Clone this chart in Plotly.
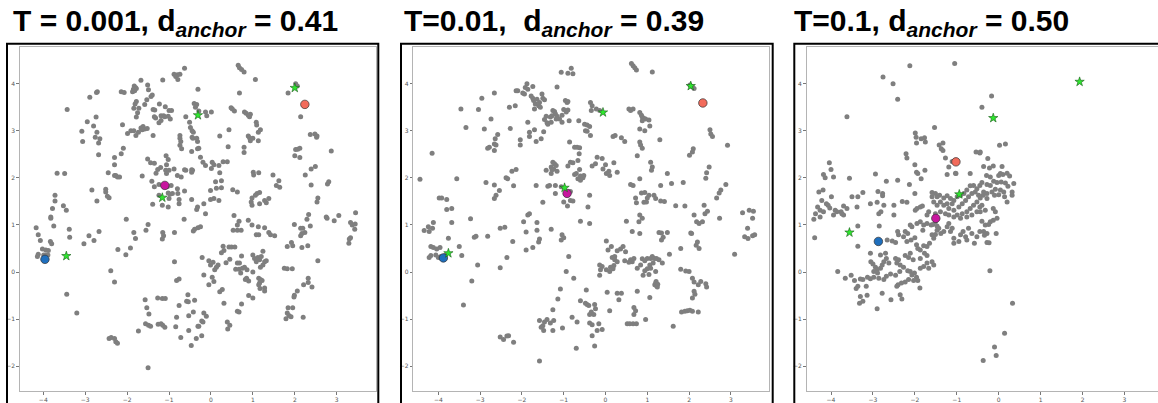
import plotly.graph_objects as go

# ---------------- data ----------------
titles = [
    "<b>T = 0.001, d<sub><i>anchor</i></sub> = 0.41</b>",
    "<b>T=0.01,\u00a0 d<sub><i>anchor</i></sub> = 0.39</b>",
    "<b>T=0.1, d<sub><i>anchor</i></sub> = 0.50</b>",
]

x_ticks = [-4, -3, -2, -1, 0, 1, 2, 3]
y_ticks = [-2, -1, 0, 1, 2, 3, 4]

# panel 1 (T = 0.001) gray embedding points
pts_t001 = [
    (-0.63,4.33),(-0.88,4.2),(-0.8,4.19),(-0.74,4.2),(-0.84,4.15),(-0.79,4.09),
    (-1.15,4.08),(-1.67,4.07),
    (-1.83,3.95),(-1.8,3.92),(-1.85,3.88),(-1.87,3.83),(-1.82,3.85),(-1.78,3.9),
    (-1.51,3.97),(-1.49,3.87),(-1.4,3.76),(-1.43,3.73),(-1.53,3.66),(-1.58,3.56),
    (-2.14,3.83),(-2.07,3.81),(-2.71,3.83),(-2.73,3.81),(-2.89,3.71),(-3.43,3.45),
    (-1.78,3.62),(-1.81,3.57),(-1.84,3.48),(-1.72,3.48),(-1.75,3.38),(-1.78,3.29),
    (-1.38,3.45),(-1.34,3.44),(-1.23,3.57),(-1.09,3.51),(-1.0,3.43),(-0.94,3.43),
    (-1.35,3.3),(-1.32,3.27),(-1.19,3.32),(-1.13,3.32),(-1.1,3.3),(-1.19,3.22),(-1.24,3.17),(-1.02,3.31),(-0.97,3.25),
    (-0.6,3.3),(-0.4,3.58),(-0.34,3.56),(-0.37,3.5),
    (-0.51,3.18),(-0.49,3.07),(-0.45,3.0),(-0.42,2.97),(-0.45,2.86),
    (-0.31,3.88),
    (-2.95,3.19),(-3.08,2.99),(-2.8,3.1),(-2.74,3.29),(-2.72,2.97),(-2.76,2.86),(-2.65,2.83),(-2.68,2.74),(-3.06,2.77),(-2.68,2.49),
    (-2.11,3.13),
    (-1.99,2.94),(-1.91,3.0),(-1.84,3.0),(-1.79,2.9),(-1.73,2.97),(-1.67,3.06),(-1.62,3.09),(-1.58,3.04),(-1.52,3.05),(-1.64,3.02),(-1.38,2.9),
    (-0.74,2.9),(-0.74,2.84),(-0.72,2.77),(-0.74,2.69),(-0.7,2.62),
    (-0.43,2.84),(-0.34,2.84),(-0.32,2.77),(-0.46,2.56),(-0.32,2.62),
    (-2.09,2.63),(-2.14,2.51),(-2.3,2.43),(-2.3,2.28),(-2.45,2.11),
    (-1.51,2.4),(-1.44,2.32),(-1.35,2.31),(-1.07,2.47),(-1.02,2.39),(-1.06,2.28),
    (-1.2,2.22),(-1.27,2.18),(-1.08,2.16),(-1.0,2.16),(-0.88,2.19),(-1.06,2.09),
    (-1.31,2.1),(-1.41,1.93),(-1.24,1.86),(-1.35,1.81),(-1.64,2.04),
    (-2.3,2.05),(-2.27,2.05),(-2.23,2.02),(-2.18,2.02),
    (-2.84,1.74),(-2.51,1.76),(-2.51,1.7),(-2.47,1.61),(-2.43,1.58),(-2.72,1.51),
    (-3.67,2.1),(-3.49,2.09),
    (-3.72,1.63),(-3.72,1.51),(-3.78,1.35),(-3.52,1.41),(-3.45,1.31),(-3.82,1.17),
    (-0.8,2.05),(-0.71,2.02),(-0.63,2.17),(-0.6,2.16),(-0.46,2.17),(-0.46,2.12),(-0.44,2.16),
    (-0.8,1.77),(-0.79,1.67),(-0.76,1.54),(-0.76,1.45),(-0.63,1.72),(-0.92,1.67),(-1.02,1.68),(-0.95,1.84),(-1.04,1.81),
    (-1.0,1.56),(-0.98,1.65),(-1.24,1.63),(-1.39,1.44),
    (-0.46,1.54),(-0.34,1.33),(-0.32,1.38),(-1.02,1.38),(-1.16,1.42),
    (-3.82,1.14),(-4.17,0.94),(-4.12,0.79),(-4.07,0.67),(-3.83,0.65),(-3.8,0.6),(-3.75,0.98),
    (-3.38,0.91),(-3.37,0.74),
    (-3.03,0.6),(-2.91,0.77),(-2.79,0.67),(-2.67,0.86),
    (-4.02,0.49),(-3.94,0.47),(-3.88,0.46),(-4.12,0.38),(-4.14,0.33),(-3.99,0.36),(-3.94,0.36),(-3.89,0.36),
    (-3.44,-0.47),(-3.2,-0.87),(-2.39,0.03),(-2.3,-0.21),
    (-2.22,0.48),(-2.03,0.37),(-1.92,0.51),(-1.84,0.84),(-1.8,0.71),(-2.02,1.12),
    (-1.55,0.89),(-1.5,1.01),
    (-1.15,0.84),(-1.13,0.77),(-1.16,0.7),(-0.87,0.84),
    (-0.87,0.22),(-0.82,-0.18),(-0.76,-0.15),
    (-0.42,0.87),(-0.39,0.91),(-0.31,0.94),(-0.64,1.12),
    (-1.57,-0.59),(-1.53,-0.76),(-1.48,-0.89),(-1.73,-1.25),
    (-1.56,-1.1),(-1.49,-1.13),(-1.44,-1.15),(-1.26,-1.11),(-1.19,-1.1),(-1.15,-1.13),(-1.1,-1.17),
    (-1.27,-0.55),(-1.16,-0.56),(-1.09,-0.56),
    (-0.76,-0.71),(-0.82,-0.96),(-0.84,-1.16),(-0.72,-1.39),
    (-0.58,-0.62),(-0.54,-0.63),(-0.55,-0.48),(-0.53,-0.93),(-0.42,-0.85),(-0.39,-0.6),
    (-0.53,-1.24),(-0.47,-1.56),(-0.35,-1.41),(-0.31,-1.15),
    (-2.43,-1.41),(-2.38,-1.39),(-2.3,-1.41),(-2.27,-1.48),(-2.23,-1.51),
    (-1.5,-2.03),
    (0.65,4.39),(0.68,4.34),(0.73,4.3),(0.79,4.25),(1.06,4.09),(0.68,3.8),(1.84,3.8),
    (2.02,4.0),(2.06,3.95),(2.14,3.3),
    (2.37,2.92),(2.48,2.93),(2.53,2.89),(2.52,2.86),(2.87,2.57),
    (2.02,2.6),(2.07,2.61),(2.12,2.63),(2.0,2.47),(2.12,2.43),
    (2.25,2.06),(2.39,2.19),(2.49,2.24),(2.39,1.85),(2.81,1.92),(2.78,1.87),
    (2.55,1.57),(2.53,1.49),(2.33,1.22),(2.75,1.17),(3.05,1.2),(3.45,1.26),
    (-0.29,3.42),(-0.13,3.4),(0.01,3.4),(-0.1,3.32),
    (0.48,3.49),(0.51,3.46),(0.56,3.42),
    (0.8,3.4),(0.84,3.37),(0.89,3.33),(0.92,3.3),(0.94,3.35),
    (1.08,3.18),(1.09,3.12),(1.18,3.02),(1.13,2.97),(0.43,3.02),(0.21,2.89),
    (-0.29,2.63),(-0.25,2.44),(-0.19,2.33),(-0.13,2.26),
    (0.03,2.33),(0.07,2.28),(0.01,2.2),(0.19,2.26),(0.29,2.34),(0.39,2.34),
    (0.41,2.66),(0.79,2.65),(0.79,2.54),
    (0.89,2.89),(0.92,2.85),(1.0,2.84),(0.94,2.79),(1.13,2.79),
    (0.21,2.11),(0.11,1.92),(0.25,1.94),(0.13,1.78),(-0.01,1.73),(0.25,1.79),(0.52,1.75),(0.63,1.7),
    (1.01,2.12),(1.14,2.11),(1.02,2.06),
    (1.48,2.06),(1.62,1.94),(1.64,1.8),(1.56,1.84),
    (1.1,1.67),(1.16,1.69),(1.06,1.63),(0.98,1.57),(0.96,1.49),(0.98,1.42),(1.16,1.45),(1.28,1.52),(1.38,1.56),(1.32,1.47),
    (-0.17,1.45),(0.07,1.56),(-0.01,1.54),(0.19,1.52),(0.55,1.2),(-0.13,1.24),
    (0.67,1.08),(0.63,1.0),(0.53,0.89),(0.63,0.89),(0.72,0.89),(0.89,1.1),(0.98,1.0),
    (1.13,0.96),(1.14,0.79),(1.08,0.79),(1.28,0.94),(1.38,0.84),(1.42,0.79),(1.52,0.77),
    (1.99,1.01),(2.14,0.93),(2.19,0.93),(2.24,0.84),(2.17,0.82),(2.14,0.77),(2.37,0.98),(2.29,1.12),
    (1.82,0.54),(1.92,0.63),(1.95,0.56),(2.17,0.52),(2.31,0.56),
    (2.77,1.14),(2.94,1.09),
    (3.33,1.05),(3.37,1.0),(3.44,1.02),(3.43,0.91),(3.29,0.61),(3.33,0.73),(3.3,0.7),
    (2.55,0.24),(1.75,0.08),(1.82,0.07),(1.94,0.07),
    (2.32,-0.13),(2.32,-0.22),(2.21,-0.27),(2.41,-0.32),(2.06,-0.4),(1.99,-0.49),(1.98,-0.53),
    (1.84,-0.76),(1.95,-0.76),(1.82,-0.87),(1.86,-0.92),(1.91,-0.95),(1.79,-0.99),(2.2,-0.96),
    (0.29,0.55),(0.31,0.46),(0.25,0.41),(0.36,0.2),(0.45,0.27),(0.43,0.53),(0.49,0.53),(0.57,0.53),
    (0.17,0.15),(0.13,0.1),(-0.01,0.15),(-0.05,0.24),(0.05,0.21),(0.09,0.05),(0.03,-0.11),(0.07,-0.2),(-0.05,-0.27),(-0.17,-0.06),
    (-0.21,0.31),(-0.25,0.96),
    (0.63,0.19),(0.68,0.19),(0.73,0.34),(0.59,0.06),(0.67,0.06),(0.75,0.08),(0.71,-0.02),(0.8,0.1),(0.86,0.05),
    (1.0,0.36),(1.04,0.29),(1.12,0.31),(1.08,0.22),(1.16,0.26),(1.2,0.33),(1.24,0.44),(1.28,0.22),(1.32,0.24),(1.24,0.15),(1.18,0.1),(1.0,0.0),
    (0.85,-0.13),(0.9,-0.19),(0.82,-0.16),
    (1.14,-0.13),(1.18,-0.16),(1.22,-0.18),(1.16,-0.23),(1.14,-0.27),(1.17,-0.35),(1.28,-0.34),(1.28,-0.4),
    (0.21,-0.42),(0.27,-0.37),(0.31,-0.66),(0.9,-0.5),(1.0,-0.55),
    (0.73,-0.68),(0.63,-0.83),(0.67,-0.85),
    (0.39,-1.06),(0.45,-1.13),(0.4,-1.21),
    (-0.17,-0.87),(-0.11,-0.94),(-0.22,-1.04),(-0.19,-1.06),(-0.29,-1.15),(-0.22,-1.35),
]

# panel 2 (T = 0.01) gray embedding points
pts_t01 = [
    (-0.82,4.33),(-0.9,4.22),(-0.78,4.21),(-1.06,4.24),(-1.16,3.93),
    (-1.88,4.0),(-1.92,3.92),(-1.86,3.88),(-1.98,3.8),(-1.94,3.78),(-1.74,3.94),
    (-1.78,3.74),(-1.74,3.69),(-1.72,3.64),(-1.64,3.67),(-1.58,3.6),(-1.52,3.78),(-1.5,3.69),(-1.46,3.66),(-1.68,3.57),(-1.6,3.53),(-1.56,3.5),(-1.7,3.46),
    (-0.92,3.6),(-0.96,3.64),(-0.9,3.62),
    (-2.66,3.8),(-2.96,3.69),(-2.14,3.85),(-2.1,3.85),(-3.46,3.46),(-3.04,3.45),
    (-2.3,3.5),(-2.16,3.53),(-2.74,3.25),(-3.34,3.07),(-2.9,3.04),(-2.28,3.05),
    (-2.04,2.81),(-2.04,2.7),
    (-2.58,2.92),(-2.64,2.83),(-2.78,2.65),(-2.66,2.72),(-2.62,2.7),(-2.66,2.58),(-2.82,2.63),
    (-1.86,3.18),(-1.82,2.97),(-1.82,2.88),(-1.7,3.02),(-1.66,2.77),(-1.54,2.83),(-1.48,2.98),(-1.46,3.24),(-1.42,3.31),(-1.4,3.17),(-1.32,3.29),(-1.28,3.32),(-1.26,3.43),(-1.22,3.41),(-1.2,3.36),(-1.16,3.31),(-1.1,3.25),(-1.04,3.33),(-1.0,3.45),(-1.04,3.18),(-1.18,3.25),(-1.3,3.18),(-1.38,3.14),
    (-0.94,3.4),(-0.9,3.44),
    (-0.87,3.21),(-0.64,3.21),(-0.5,3.14),(-0.44,3.12),(-0.38,3.09),(-0.48,3.0),(-0.44,2.99),
    (-0.86,2.76),(-0.74,2.65),(-0.68,2.65),(-0.62,2.64),(-0.63,2.51),
    (-4.15,2.52),
    (-2.14,2.18),(-2.24,2.14),(-2.38,2.0),(-2.34,1.98),(-2.2,1.83),
    (-2.86,1.9),(-2.66,1.85),(-2.54,1.73),(-2.62,1.63),(-2.66,1.56),
    (-3.56,1.98),(-4.44,1.97),
    (-1.26,2.33),(-1.22,2.3),(-1.3,2.23),(-1.24,2.19),(-1.18,2.26),(-1.16,2.14),(-1.3,2.09),(-1.42,2.16),(-1.28,2.17),
    (-0.9,2.25),(-0.84,2.33),(-0.78,2.32),(-0.66,2.37),(-0.74,2.07),(-0.7,2.09),(-0.6,2.04),(-0.66,1.98),(-0.6,1.95),(-0.54,2.0),(-0.52,2.05),(-0.62,2.18),
    (-1.66,1.84),(-1.38,1.82),(-1.34,1.84),(-1.2,1.84),(-1.06,1.81),(-1.2,1.67),(-1.5,1.48),(-1.0,1.49),(-0.91,1.4),(-0.84,1.52),(-0.78,1.51),
    (-0.88,1.7),(-0.84,1.71),(-0.42,1.38),(-0.38,1.63),(-0.6,1.08),(-0.38,1.03),
    (-3.98,1.57),(-3.92,1.57),(-3.8,1.54),(-3.68,1.35),(-3.8,1.33),(-3.68,1.05),
    (-3.23,1.13),
    (-4.12,1.05),(-4.24,0.96),(-4.34,0.88),(-4.14,0.93),(-4.22,0.86),
    (-3.76,0.72),
    (-4.18,0.54),(-4.12,0.52),(-4.18,0.35),(-4.22,0.31),(-4.04,0.49),(-3.96,0.52),(-4.06,0.36),(-4.0,0.31),(-3.94,0.33),(-3.92,0.29),(-3.84,0.35),
    (-3.5,0.54),(-3.44,0.35),
    (-3.14,0.74),(-3.1,0.76),(-2.82,0.76),
    (-2.52,0.93),(-2.41,0.95),(-2.22,0.65),
    (-3.06,0.15),(-2.36,0.31),(-2.52,0.09),(-3.2,-0.19),(-3.4,-0.7),
    (-1.96,1.07),(-1.86,1.21),(-1.82,1.24),(-1.9,0.85),(-1.9,0.47),(-1.64,1.05),(-1.64,0.89),(-1.58,0.7),(-1.6,0.64),(-1.74,0.52),
    (-1.3,0.91),
    (-1.04,0.79),(-1.0,0.73),(-1.06,0.68),
    (-0.88,0.33),(-0.94,0.01),(-0.76,-0.13),(-1.08,-0.36),(-1.14,-0.57),(-1.26,-0.8),
    (-1.58,-1.03),(-1.46,-1.06),(-1.5,-1.14),(-1.4,-1.01),(-1.32,-1.08),(-1.24,-1.03),(-1.26,-1.24),(-1.48,-1.24),(-1.54,-1.17),
    (-1.03,-1.19),(-0.8,-0.96),(-0.68,-1.06),
    (-0.6,-0.61),(-0.48,-0.66),(-0.44,-0.69),(-0.4,-0.71),(-0.46,-0.38),(-0.38,-0.9),(-0.38,-1.08),
    (-0.7,-1.62),
    (-2.52,-1.38),(-2.44,-1.43),(-2.36,-1.36),(-2.32,-1.35),(-2.2,-1.49),
    (-1.58,-1.89),
    (0.62,4.43),(0.66,4.38),(0.7,4.34),(0.74,4.29),(1.12,4.25),
    (2.02,3.97),(2.08,3.93),(2.12,3.9),
    (-0.36,3.6),(-0.32,3.53),(-0.34,3.43),(-0.22,3.46),(-0.14,3.43),
    (0.56,3.46),(0.6,3.43),(0.66,3.46),(0.82,3.39),(0.86,3.33),(0.88,3.29),(0.92,3.26),(0.96,3.25),(1.04,3.23),(0.88,3.21),
    (1.06,3.1),(0.94,3.0),(0.82,3.04),(1.3,2.81),
    (0.23,2.9),(0.18,2.88),(0.38,2.85),(0.46,2.77),
    (0.82,2.76),(0.84,2.7),(0.88,2.63),(0.76,2.47),
    (2.5,3.02),(2.52,2.93),(2.56,2.88),(2.92,2.69),
    (2.1,2.62),(2.08,2.55),(2.01,2.48),
    (1.08,2.33),(1.12,2.23),(1.1,2.16),
    (2.48,2.23),(2.42,2.11),(2.4,1.99),
    (-0.36,2.9),(-0.2,2.44),(-0.24,2.3),(-0.32,2.25),(-0.08,2.41),(0.0,2.28),(0.2,2.32),(0.28,2.12),(0.08,2.14),(0.02,2.09),(0.1,2.05),(-0.06,2.19),
    (1.48,2.09),(1.58,1.88),(1.86,1.9),(1.32,1.84),(0.82,1.98),(0.6,1.86),(0.66,1.84),
    (2.88,1.86),(2.76,1.74),(2.72,1.68),(2.66,1.57),
    (2.36,1.42),(2.44,1.29),(2.38,1.24),(2.24,1.03),(2.32,1.07),
    (3.28,1.26),(3.44,1.31),(3.54,1.29),(3.52,1.14),(3.4,0.93),(3.33,0.75),(3.41,0.71),(3.52,0.77),(3.57,0.79),
    (3.09,0.38),(2.73,1.14),
    (1.68,1.41),(1.9,1.4),(2.12,1.21),(2.18,1.07),(2.04,0.83),(2.06,0.82),(2.2,0.64),(2.17,0.57),(2.24,0.5),(1.8,0.5),
    (1.28,0.84),(1.34,0.83),(1.48,0.84),(1.38,0.74),(1.34,0.68),(1.53,0.38),
    (0.94,1.69),(1.04,1.63),(1.0,1.57),(1.16,1.63),(1.2,1.56),(1.32,1.51),(1.41,1.5),(0.92,1.48),(0.98,1.49),(0.72,1.57),(0.74,1.47),(0.86,1.68),
    (0.82,1.21),(0.88,1.14),(0.8,1.07),
    (0.64,0.86),(0.82,0.82),(0.5,1.08),
    (0.02,0.66),(0.14,0.54),(0.06,0.47),(0.28,0.45),(0.36,0.49),(0.42,0.54),(0.48,0.43),(0.22,0.33),(0.16,0.31),(0.22,0.26),(0.28,0.22),(0.46,0.24),
    (-0.14,0.15),(-0.08,0.12),(-0.12,0.05),(-0.14,-0.07),(0.02,0.05),(0.12,0.1),(0.2,0.14),(0.1,0.01),(0.18,0.07),
    (0.6,0.26),(0.68,0.29),(0.64,0.22),(0.56,0.21),(0.76,0.08),(0.84,0.15),(0.88,0.28),(0.94,0.24),(1.0,0.29),(1.08,0.29),(1.12,0.33),(1.17,0.29),(1.22,0.29),(1.14,0.19),(1.06,0.15),(1.08,0.08),(1.0,0.07),(0.94,0.03),(0.9,-0.07),(1.04,-0.05),(1.2,0.01),(1.28,0.26),(1.36,0.19),
    (1.2,-0.24),(1.22,-0.29),(1.24,-0.32),(1.18,-0.27),(1.21,-0.2),(1.25,-0.26),
    (1.06,-0.54),
    (1.8,0.06),(1.92,0.02),(2.0,0.01),(2.08,-0.13),(2.12,-0.21),(2.12,-0.41),(2.14,-0.47),(2.08,-0.55),
    (2.22,-0.27),(2.28,-0.2),(2.4,-0.25),(2.42,-0.32),
    (1.82,-0.85),(1.9,-0.83),(1.96,-0.82),(2.02,-0.81),(2.08,-0.83),(2.22,-0.85),
    (1.62,-1.15),
    (0.52,-1.1),(0.58,-1.1),(0.66,-1.1),(0.74,-1.1),(0.96,-1.01),
    (0.68,-0.75),(0.72,-0.82),(0.68,-0.9),
    (0.28,-0.45),(0.38,-0.45),(0.32,-0.59),(0.04,-0.43),
    (0.1,-0.82),(-0.26,-0.69),(-0.24,-0.78),(-0.34,-0.85),(-0.28,-0.9),(-0.16,-1.1),(-0.32,-1.12),(-0.08,-1.22),(-0.2,-1.24),(-0.32,-1.35),(-0.26,-1.57),
    (0.76,-0.41),
]

# panel 3 (T = 0.1) gray embedding points
pts_t1 = [
    (-2.12,4.38),(-1.05,4.43),(-2.76,4.14),(-2.52,4.0),(-2.41,3.67),(-3.62,3.3),(-1.53,3.07),
    (-1.99,2.95),(-1.97,2.86),(-1.96,2.74),(-1.85,2.83),(-1.77,2.85),(-1.75,2.76),
    (-1.42,2.7),(-1.33,2.74),(-1.37,2.62),(-1.33,2.58),(-1.27,2.42),(-1.19,2.23),(-1.11,2.35),
    (-0.54,2.55),(-0.45,2.53),(-2.21,2.51),(-2.19,2.42),(-2.0,2.28),
    (-4.04,2.32),(-4.18,2.07),(-4.14,2.0),(-4.0,2.18),(-3.94,2.02),(-3.56,1.99),
    (-2.94,2.08),(-2.68,1.93),(-2.41,1.95),(-2.13,1.86),(-1.93,2.09),(-1.96,2.12),(-1.76,2.16),(-1.85,1.98),
    (-1.23,2.07),(-1.02,2.09),(-1.03,2.1),(-0.68,2.09),
    (-2.0,1.67),(-2.88,1.71),(-2.77,1.67),(-2.77,1.62),
    (-4.29,1.7),(-4.19,1.74),(-3.99,1.6),(-4.22,1.52),(-4.32,1.38),(-4.11,1.45),(-4.07,1.42),(-4.03,1.36),(-4.26,1.31),(-4.18,1.28),
    (-3.9,1.31),(-3.86,1.28),(-3.76,1.28),(-3.7,1.4),(-3.62,1.35),(-3.5,1.6),(-3.36,1.6),(-3.24,1.69),(-3.06,1.45),(-2.9,1.48),
    (-2.74,1.42),(-2.5,1.42),(-2.3,1.5),(-2.19,1.48),(-1.99,1.31),(-1.95,1.35),(-1.87,1.38),(-1.82,1.4),(-2.5,1.21),(-2.86,1.24),
    (-2.81,1.28),(-3.38,1.38),(-3.7,1.21),(-3.74,1.24),(-3.94,1.21),(-4.26,1.17),(-4.37,1.24),
    (-1.59,1.69),(-1.51,1.67),(-1.47,1.6),(-1.41,1.63),(-1.31,1.57),(-1.23,1.62),(-1.15,1.56),(-1.07,1.52),(-1.11,1.45),(-1.23,1.45),
    (-1.31,1.42),(-1.39,1.49),(-1.47,1.42),(-1.55,1.49),(-1.59,1.6),(-1.19,1.35),(-1.07,1.31),(-0.95,1.38),(-0.87,1.45),(-0.79,1.52),
    (-0.72,1.6),(-0.64,1.67),(-0.56,1.7),(-0.52,1.77),(-0.45,1.84),(-0.6,1.84),(-0.68,1.83),(-0.76,1.74),(-0.83,1.67),(-0.91,1.63),
    (-0.99,1.6),(-0.48,1.63),(-0.52,1.49),(-0.6,1.42),(-0.68,1.35),(-0.76,1.28),(-0.87,1.24),(-0.99,1.21),(-1.07,1.17),(-0.91,1.14),
    (-0.76,1.17),(-0.64,1.21),(-0.52,1.28),(-0.45,1.38),(-1.51,1.24),(-1.39,1.28),(-1.27,1.24),(-1.19,1.21),(-1.67,1.28),(-1.71,1.21),(-1.47,1.14),
    (-4.41,1.12),(-4.39,0.73),(-3.36,0.98),(-3.36,0.55),(-2.85,0.98),
    (-2.66,0.68),(-2.54,0.66),(-2.46,0.63),(-2.39,0.79),(-2.41,0.86),(-2.27,0.75),(-2.17,0.82),(-2.23,0.86),(-2.11,1.0),(-2.07,0.96),
    (-1.95,1.03),(-1.87,1.07),(-1.81,0.89),(-1.79,1.0),(-1.71,1.03),(-1.61,1.0),(-1.57,1.01),(-1.51,1.07),(-1.47,0.98),
    (-2.19,0.65),(-2.09,0.68),(-2.0,0.73),(-1.96,0.58),(-1.93,0.5),(-1.87,0.47),(-1.79,0.56),(-1.71,0.54),(-1.65,0.61),
    (-1.59,0.79),(-1.55,0.72),(-1.51,0.8),(-1.47,0.89),(-1.43,0.93),(-1.38,0.82),(-1.31,0.86),(-1.23,0.96),(-1.19,1.03),
    (-1.15,0.86),(-1.11,0.93),(-1.07,0.72),(-0.95,0.65),(-0.91,0.79),(-0.85,0.86),(-0.79,0.75),(-0.76,0.68),(-0.72,0.93),
    (-0.64,0.82),(-0.58,0.61),(-0.52,0.75),(-0.45,0.86),(-1.07,0.61),
    (-3.06,0.4),(-3.05,0.22),(-3.0,0.17),(-2.94,0.1),(-2.9,0.05),(-2.98,0.01),(-2.89,-0.02),(-2.82,0.08),(-2.78,0.15),(-2.74,0.22),
    (-2.68,0.29),(-2.62,0.19),(-2.82,0.36),(-2.7,0.4),(-2.46,0.29),(-2.39,0.26),(-2.43,0.19),(-2.35,0.15),(-2.27,0.1),(-2.36,0.01),
    (-2.17,0.03),(-2.11,0.01),(-2.07,-0.06),(-2.01,-0.02),(-1.96,-0.11),(-1.93,-0.18),(-2.03,-0.18),(-2.15,-0.16),(-2.23,-0.21),(-2.32,-0.23),
    (-2.4,-0.27),(-2.46,-0.07),(-2.58,-0.04),(-2.68,-0.09),(-2.74,-0.16),(-2.86,-0.13),(-2.98,-0.11),(-3.06,-0.14),(-3.13,-0.11),(-3.24,-0.16),
    (-3.3,-0.15),(-3.44,-0.18),(-3.52,-0.07),(-3.66,-0.13),(-3.84,0.01),(-3.36,-0.3),(-3.4,-0.35),(-3.3,-0.52),(-3.32,-0.66),(-3.24,-0.62),
    (-3.16,-0.3),(-3.14,-0.49),(-2.9,-0.78),(-2.78,-0.45),(-2.57,-0.59),(-2.43,-0.3),(-2.35,-0.48),(-2.31,-0.57),(-1.88,-0.34),
    (-1.79,0.12),(-1.71,0.19),(-1.67,0.08),(-1.59,0.22),(-1.55,0.15),(-1.71,0.35),(-1.77,0.4),(-1.87,0.29),(-2.04,0.26),(-2.11,0.4),
    (-2.15,0.31),(-2.23,0.35),(-1.87,0.08),
    (-0.29,2.05),(-0.2,2.02),(0.0,2.05),(0.04,2.09),(0.1,2.07),(0.2,2.1),(0.26,2.04),(0.36,1.88),(0.22,1.82),(0.16,1.89),
    (0.06,1.91),(-0.04,1.9),(-0.12,1.93),(-0.2,1.84),(-0.28,1.86),(-0.4,1.9),(-0.36,1.7),(-0.28,1.67),(-0.16,1.7),(-0.08,1.76),
    (0.04,1.74),(0.12,1.7),(0.0,1.64),(-0.1,1.63),(-0.28,1.56),(-0.37,1.63),(-0.44,1.57),(0.32,1.7),(0.32,1.63),(0.14,1.6),
    (0.2,1.49),(-0.4,1.42),(-0.32,1.31),(-0.13,1.35),(-0.08,1.28),(-0.04,1.14),(-0.13,1.1),(-0.2,1.07),(-0.24,1.01),(-0.32,1.0),
    (-0.4,1.08),(-0.44,1.28),(-0.36,0.86),(-0.28,0.82),(-0.34,0.78),(-0.06,0.82),(-0.28,0.63),(-0.23,0.62),(-0.21,0.03),
    (0.33,-0.66),(0.14,-1.3),(-0.1,-1.59),(-0.06,-1.77),(-0.37,-1.88),
    (-0.17,3.74),(-0.4,3.5),(0.02,2.69),(0.16,2.72),(-0.44,2.55),(-0.26,2.41),(-0.36,2.24),(-0.22,2.21),(-0.13,2.25),(0.08,2.24),
]

# highlighted anchor points per panel: (x, y)
blue_pts = [(-3.96, 0.27), (-3.88, 0.30), (-2.87, 0.65)]
magenta_pts = [(-1.10, 1.84), (-0.92, 1.67), (-1.50, 1.14)]
red_pts = [(2.24, 3.56), (2.33, 3.59), (-1.02, 2.34)]
green_stars = [
    [(-3.45, 0.34), (-1.16, 1.58), (-0.31, 3.33), (2.00, 3.91)],
    [(-3.76, 0.40), (-0.98, 1.79), (-0.06, 3.39), (2.04, 3.95)],
    [(-3.56, 0.84), (-0.94, 1.65), (-0.13, 3.27), (1.93, 4.04)],
]
gray_sets = [pts_t001, pts_t01, pts_t1]

# ---------------- layout geometry (pixels) ----------------
W, H = 1158, 403
x_dom_px = [(20, 375.7), (413.3, 769.3), (806.7, 1158)]
y_dom_px = (47, 394)            # top, bottom of plot area
x_ranges = [[-4.555, 3.93], [-4.60, 3.92], [-4.58, 3.80]]
y_range = [-2.527, 4.786]
frame_px = [(7, 378.3), (401, 772.7), (794.3, 1200)]
title_x_px = [11, 402, 792]

fig = go.Figure()

for i in range(3):
    ax = "" if i == 0 else str(i + 1)
    xa, ya = "x" + ax, "y" + ax
    pts = gray_sets[i]
    fig.add_trace(go.Scatter(
        x=[p[0] for p in pts], y=[p[1] for p in pts], mode="markers",
        marker=dict(color="#7f7f7f", size=5, line=dict(width=0)),
        xaxis=xa, yaxis=ya, showlegend=False, hoverinfo="skip"))
    for pt, col in ((blue_pts[i], "#1f6fbd"), (magenta_pts[i], "#c8169f"), (red_pts[i], "#f26b5b")):
        fig.add_trace(go.Scatter(
            x=[pt[0]], y=[pt[1]], mode="markers",
            marker=dict(color=col, size=8.5, line=dict(width=0.7, color="#333333")),
            xaxis=xa, yaxis=ya, showlegend=False, hoverinfo="skip"))
    st = green_stars[i]
    fig.add_trace(go.Scatter(
        x=[p[0] for p in st], y=[p[1] for p in st], mode="markers",
        marker=dict(symbol="star", color="#2ee62e", size=7, line=dict(width=0.6, color="#1a5a1a")),
        xaxis=xa, yaxis=ya, showlegend=False, hoverinfo="skip"))

    axis_common = dict(showgrid=False, zeroline=False, showline=True, linecolor="#b4b4b4",
                       linewidth=1.2, ticks="outside", ticklen=2.5, tickwidth=0.8,
                       tickcolor="#777777", tickfont=dict(size=6, color="#555555",
                                                          family="DejaVu Sans"))
    fig.layout["xaxis" + ax] = dict(
        axis_common, domain=[x_dom_px[i][0] / W, min(x_dom_px[i][1] / W, 1.0)],
        range=x_ranges[i], tickvals=x_ticks, mirror=True, anchor=ya)
    fig.layout["yaxis" + ax] = dict(
        axis_common, domain=[(H - y_dom_px[1]) / H, (H - y_dom_px[0]) / H],
        range=y_range, tickvals=y_ticks, mirror=(i < 2), anchor=xa)

    # outer black frame around each panel
    fig.add_shape(type="rect", xref="paper", yref="paper",
                  x0=frame_px[i][0] / W, x1=frame_px[i][1] / W,
                  y0=-0.2, y1=(H - 44) / H,
                  line=dict(color="black", width=2), fillcolor="rgba(0,0,0,0)")

    fig.add_annotation(text=titles[i], xref="paper", yref="paper",
                       x=title_x_px[i] / W, y=(H - 2) / H, xanchor="left", yanchor="top",
                       showarrow=False,
                       font=dict(family="Liberation Sans, Arial", size=30, color="black"))

fig.update_layout(width=W, height=H, margin=dict(l=0, r=0, t=0, b=0),
                  paper_bgcolor="white", plot_bgcolor="white")

fig.write_html("out.html")
